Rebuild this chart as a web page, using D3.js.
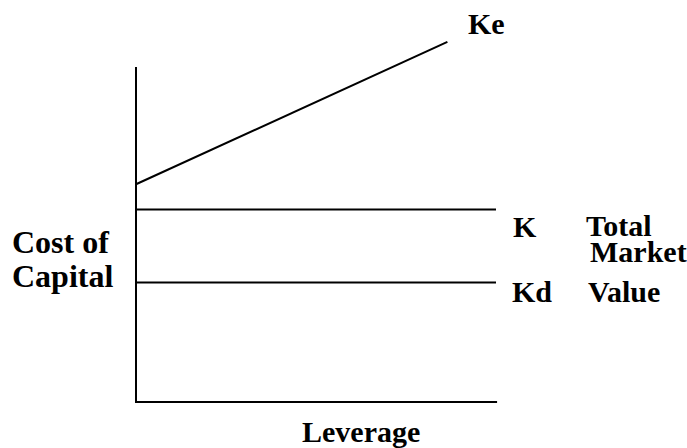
<!DOCTYPE html>
<html>
<head>
<meta charset="utf-8">
<script src="https://cdn.jsdelivr.net/npm/d3@7"></script>
<style>
    body { margin: 0; background: white; }
    svg text { font-family: "Liberation Serif", "Times New Roman", serif; font-weight: bold; fill: black; }
</style>
</head>
<body>
<div id="chart"></div>
<script>
// leverage runs 0..10 along the x axis, cost of capital 0..12 on y
const leverage = [0, 8.65];
const keValues = [6.5, 10.75];
const kLevel = 5.75;
const kdLevel = 3.57;
const axisTop = 10;
const xMax = 10;

const width = 687;
const height = 448;

const x = d3.scaleLinear().domain([0, xMax]).range([136, 496]);
const y = d3.scaleLinear().domain([0, 12]).range([402, 0]);

const svg = d3.select("#chart").append("svg")
    .attr("width", width)
    .attr("height", height);

const line = d3.line()
    .x(d => x(d[0]))
    .y(d => y(d[1]));

// axes as plain L shape
svg.append("path")
    .attr("d", line([[0, axisTop], [0, 0], [xMax + 0.03, 0]]))
    .attr("fill", "none")
    .attr("stroke", "black")
    .attr("stroke-width", 2);

const series = [
    { name: "Ke", points: leverage.map((l, i) => [l, keValues[i]]) },
    { name: "K", points: [[0, kLevel], [xMax, kLevel]] },
    { name: "Kd", points: [[0, kdLevel], [xMax, kdLevel]] }
];

svg.selectAll("path.series")
    .data(series)
    .enter()
    .append("path")
    .attr("class", "series")
    .attr("d", d => line(d.points))
    .attr("fill", "none")
    .attr("stroke", "black")
    .attr("stroke-width", 2);

// labels
const labels = [
    { text: "Ke", x: 468, y: 34, size: 30 },
    { text: "K", x: 513, y: 236.5, size: 30 },
    { text: "Kd", x: 512, y: 302, size: 30 },
    { text: "Total", x: 586, y: 236, size: 30 },
    { text: "Market", x: 590, y: 262, size: 30 },
    { text: "Value", x: 588, y: 302, size: 30 },
    { text: "Cost of", x: 12, y: 253, size: 32 },
    { text: "Capital", x: 12, y: 287, size: 32 },
    { text: "Leverage", x: 302, y: 441.5, size: 30 }
];

svg.selectAll("text")
    .data(labels)
    .enter()
    .append("text")
    .attr("x", d => d.x)
    .attr("y", d => d.y)
    .attr("font-size", d => d.size)
    .text(d => d.text);
</script>
</body>
</html>
